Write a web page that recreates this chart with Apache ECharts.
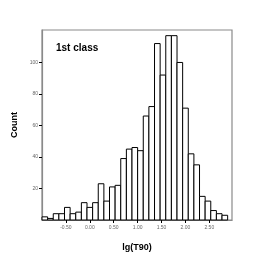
<!DOCTYPE html>
<html><head><meta charset="utf-8">
<script src="https://cdn.jsdelivr.net/npm/echarts@6/dist/echarts.min.js"></script>
<style>html,body{margin:0;padding:0;background:#fff}#c{width:264px;height:264px}</style>
</head><body><div id="c"></div>
<script>
const binStart = -1.0;
const binWidth = 0.1177;
const counts = [2,1,4,4,8,4,5,11,8,11,23,12,21,22,39,45,46,44,66,72,112,92,117,117,100,71,42,35,15,12,6,4,3];
const xTicks = [-0.5,0,0.5,1,1.5,2,2.5];
const yTicks = [20,40,60,80,100];
const title = '1st class';

const data = counts.map((c,i)=>[binStart + i*binWidth, binStart + (i+1)*binWidth, c]);
const chart = echarts.init(document.getElementById('c'));
chart.setOption({
  animation:false,
  grid:{left:42,right:32,top:30,bottom:44,show:true,borderColor:'#8a8a8a',borderWidth:1.2},
  title:{text:title,left:51,top:38,textStyle:{fontFamily:'Liberation Sans',fontSize:10,fontWeight:'bold',color:'#000'}},
  xAxis:{type:'value',min:-1.0,max:2.975,name:'lg(T90)',nameLocation:'middle',nameGap:23,
    nameTextStyle:{fontFamily:'Liberation Sans',fontSize:9,fontWeight:'bold',color:'#000'},
    axisLine:{show:true,onZero:false,lineStyle:{color:'#8a8a8a',width:1.2}},
    axisTick:{show:true,length:3,customValues:xTicks,lineStyle:{color:'#000'}},
    axisLabel:{customValues:xTicks,fontSize:5,color:'#666',margin:5,fontFamily:'Liberation Sans',formatter:v=>v.toFixed(2)},
    splitLine:{show:false}},
  yAxis:{type:'value',min:0,max:120.6,name:'Count',nameLocation:'middle',nameGap:20,
    nameTextStyle:{fontFamily:'Liberation Sans',fontSize:9,fontWeight:'bold',color:'#000'},
    axisLine:{show:true,onZero:false,lineStyle:{color:'#8a8a8a',width:1.2}},
    axisTick:{show:true,length:3,customValues:yTicks,lineStyle:{color:'#000'}},
    axisLabel:{customValues:yTicks,fontSize:5,color:'#666',margin:4,fontFamily:'Liberation Sans'},
    splitLine:{show:false}},
  series:[{type:'custom',data:data,
    renderItem:(params,api)=>{
      const p0 = api.coord([api.value(0),api.value(2)]);
      const p1 = api.coord([api.value(1),0]);
      return {type:'rect',shape:{x:p0[0],y:p0[1],width:p1[0]-p0[0],height:p1[1]-p0[1]},
        style:{fill:'#fff',stroke:'#000',lineWidth:1}};
    },
    encode:{x:[0,1],y:2}}]
});
</script></body></html>
